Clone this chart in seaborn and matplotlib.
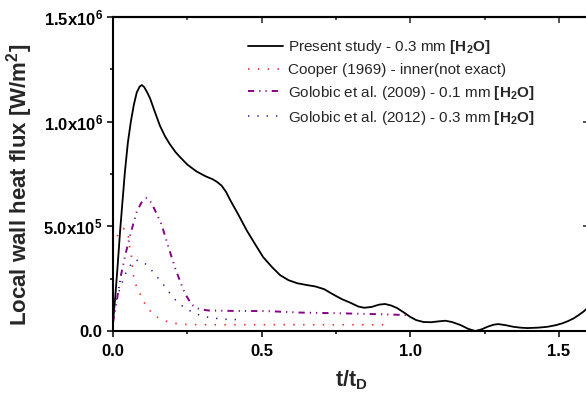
import matplotlib
matplotlib.use("Agg")
import matplotlib.pyplot as plt
import seaborn as sns
import numpy as np
import pandas as pd
from matplotlib.ticker import FixedLocator, MultipleLocator, NullFormatter

# ---------------- data ----------------
present_x = [0.0, 0.008, 0.016, 0.024, 0.032, 0.04, 0.05, 0.06, 0.07, 0.08, 0.09, 0.097,
             0.105, 0.115, 0.125, 0.14, 0.158, 0.175, 0.19, 0.21, 0.226, 0.25, 0.28, 0.31,
             0.335, 0.35, 0.365, 0.38, 0.394, 0.42, 0.45, 0.48, 0.505, 0.535, 0.562, 0.59,
             0.62, 0.65, 0.68, 0.71, 0.74, 0.77, 0.80, 0.825, 0.845, 0.87, 0.895, 0.915,
             0.935, 0.955, 0.98, 1.0, 1.02, 1.044, 1.07, 1.095, 1.118, 1.14, 1.168, 1.195,
             1.219, 1.24, 1.259, 1.28, 1.296, 1.32, 1.347, 1.37, 1.394, 1.43, 1.461, 1.49,
             1.512, 1.53, 1.549, 1.565, 1.582, 1.6]
present_y = [0.04, 0.17, 0.32, 0.48, 0.62, 0.76, 0.90, 1.0, 1.08, 1.14, 1.168, 1.175,
             1.165, 1.14, 1.11, 1.05, 0.98, 0.93, 0.895, 0.855, 0.83, 0.795, 0.763, 0.74,
             0.725, 0.712, 0.695, 0.665, 0.626, 0.56, 0.48, 0.41, 0.353, 0.305, 0.267, 0.243,
             0.228, 0.22, 0.213, 0.2, 0.175, 0.152, 0.134, 0.117, 0.111, 0.115, 0.126, 0.129,
             0.122, 0.11, 0.087, 0.067, 0.052, 0.043, 0.042, 0.046, 0.049, 0.043, 0.029, 0.01,
             0.0, 0.008, 0.02, 0.03, 0.033, 0.028, 0.02, 0.016, 0.014, 0.016, 0.02, 0.028,
             0.037, 0.047, 0.06, 0.075, 0.092, 0.115]

cooper_x = [0.0, 0.015, 0.035, 0.05, 0.057, 0.063, 0.068, 0.074, 0.088, 0.1, 0.117,
            0.141, 0.17, 0.197, 0.226, 0.3, 0.5, 0.7, 0.912]
cooper_y = [0.41, 0.455, 0.49, 0.47, 0.39, 0.35, 0.27, 0.23, 0.188, 0.148, 0.108,
            0.072, 0.05, 0.04, 0.032, 0.03, 0.03, 0.03, 0.03]

gol09_x = [0.0, 0.015, 0.027, 0.043, 0.06, 0.08, 0.095, 0.105, 0.113, 0.122, 0.135,
           0.15, 0.164, 0.186, 0.209, 0.237, 0.25, 0.264, 0.28, 0.293, 0.321, 0.4, 0.52,
           0.63, 0.75, 0.9, 0.993]
gol09_y = [0.04, 0.165, 0.268, 0.373, 0.47, 0.57, 0.612, 0.63, 0.635, 0.628, 0.595,
           0.55, 0.506, 0.403, 0.30, 0.196, 0.16, 0.127, 0.111, 0.104, 0.098, 0.096, 0.095,
           0.088, 0.085, 0.08, 0.076]

gol12_x = [0.0, 0.007, 0.018, 0.029, 0.038, 0.052, 0.074, 0.104, 0.13, 0.152, 0.175,
           0.197, 0.222, 0.254, 0.281, 0.31, 0.338, 0.367, 0.396, 0.424]
gol12_y = [0.06, 0.14, 0.18, 0.225, 0.263, 0.302, 0.34, 0.328, 0.29, 0.252, 0.212,
           0.169, 0.13, 0.10, 0.081, 0.068, 0.062, 0.057, 0.056, 0.054]

labels = [r"Present study - 0.3 mm $\mathbf{[H_2O]}$",
          "Cooper (1969) - inner(not exact)",
          r"Golobic et al. (2009) - 0.1 mm $\mathbf{[H_2O]}$",
          r"Golobic et al. (2012) - 0.3 mm $\mathbf{[H_2O]}$"]

ytick_vals = [0.0, 0.5e6, 1.0e6, 1.5e6]
ytick_labels = ["0.0", r"5.0x10$^{5}$", r"1.0x10$^{6}$", r"1.5x10$^{6}$"]
xtick_vals = [0.0, 0.5, 1.0, 1.5]
xtick_labels = ["0.0", "0.5", "1.0", "1.5"]

# ---------------- style ----------------
sns.set_theme(style="ticks")
plt.rcParams["font.family"] = ["Liberation Sans", "DejaVu Sans"]
plt.rcParams["mathtext.fontset"] = "custom"
plt.rcParams["mathtext.rm"] = "Liberation Sans"
plt.rcParams["mathtext.bf"] = "Liberation Sans:bold"
plt.rcParams["mathtext.it"] = "Liberation Sans:italic"
plt.rcParams["mathtext.default"] = "bf"

W, H = 586, 398
fig = plt.figure(figsize=(W / 100, H / 100), dpi=100)
ax_left, ax_bottom = 113, 67
ax_w, ax_h = 588.7 - 113, 314
ax = fig.add_axes([ax_left / W, ax_bottom / H, ax_w / W, ax_h / H])

def frame(x, y, name):
    return pd.DataFrame({"x": x, "y": np.array(y) * 1e6, "s": name})

sns.lineplot(data=frame(present_x, present_y, labels[0]), x="x", y="y", ax=ax,
             color="black", lw=1.3, sort=False, estimator=None, label=labels[0])
sns.lineplot(data=frame(cooper_x, cooper_y, labels[1]), x="x", y="y", ax=ax,
             color="#ff2a2a", lw=1.2, sort=False, estimator=None, label=labels[1])
sns.lineplot(data=frame(gol09_x, gol09_y, labels[2]), x="x", y="y", ax=ax,
             color="#870087", lw=1.4, sort=False, estimator=None, label=labels[2])
sns.lineplot(data=frame(gol12_x, gol12_y, labels[3]), x="x", y="y", ax=ax,
             color="#1c1ca0", lw=1.1, sort=False, estimator=None, label=labels[3])

lines = ax.get_lines()
lines[1].set_dashes([0.9, 5.0])
lines[2].set_dashes([3.2, 2.6, 0.6, 2.6, 0.6, 2.6])
lines[3].set_dashes([0.9, 5.2])

ax.set_xlim(0, 1.6)
ax.set_ylim(0, 1.5e6)

ax.xaxis.set_major_locator(FixedLocator(xtick_vals))
ax.set_xticklabels(xtick_labels)
ax.xaxis.set_minor_locator(MultipleLocator(0.25))
ax.yaxis.set_major_locator(FixedLocator(ytick_vals))
ax.set_yticklabels(ytick_labels)
ax.yaxis.set_minor_locator(MultipleLocator(0.25e6))

for lab in ax.get_xticklabels() + ax.get_yticklabels():
    lab.set_fontweight("bold")
    lab.set_fontsize(12)
    lab.set_color("black")

ax.tick_params(axis="both", which="major", direction="out", length=4.5, width=1.1,
               color="black")
ax.tick_params(axis="both", which="minor", direction="out", length=2.5, width=1.1,
               color="black")
ax.tick_params(axis="x", which="major", pad=5)
ax.tick_params(axis="y", which="major", pad=3)

for sp in ax.spines.values():
    sp.set_linewidth(1.5)
    sp.set_color("black")
    sp.set_visible(True)

# mirrored inward ticks on top and right
top = ax.secondary_xaxis("top")
top.xaxis.set_major_locator(FixedLocator(xtick_vals))
top.xaxis.set_minor_locator(MultipleLocator(0.25))
top.xaxis.set_major_formatter(NullFormatter())
top.tick_params(which="major", direction="in", length=4.5, width=1.1)
top.tick_params(which="minor", direction="in", length=2.5, width=1.1)
top.spines["top"].set_linewidth(1.5)

right = ax.secondary_yaxis("right")
right.yaxis.set_major_locator(FixedLocator(ytick_vals))
right.yaxis.set_minor_locator(MultipleLocator(0.25e6))
right.yaxis.set_major_formatter(NullFormatter())
right.tick_params(which="major", direction="in", length=4.5, width=1.1)
right.tick_params(which="minor", direction="in", length=2.5, width=1.1)

ax.set_xlabel(r"t/t$_{D}$", fontsize=15.5, fontweight="bold")
ax.set_ylabel(r"Local wall heat flux [W/m$^{2}$]", fontsize=16, fontweight="bold")
ax.xaxis.set_label_coords(0.5, -0.12)
ax.yaxis.set_label_coords(-0.165, 0.465)

ax.grid(False)
leg = ax.legend(loc="upper left", bbox_to_anchor=(248 / W, 1 - 38 / H),
                bbox_transform=fig.transFigure, frameon=False, fontsize=11,
                handlelength=2.3, handletextpad=0.33, borderpad=0, borderaxespad=0,
                labelspacing=0.45)

fig.savefig("out.png", dpi=100)
